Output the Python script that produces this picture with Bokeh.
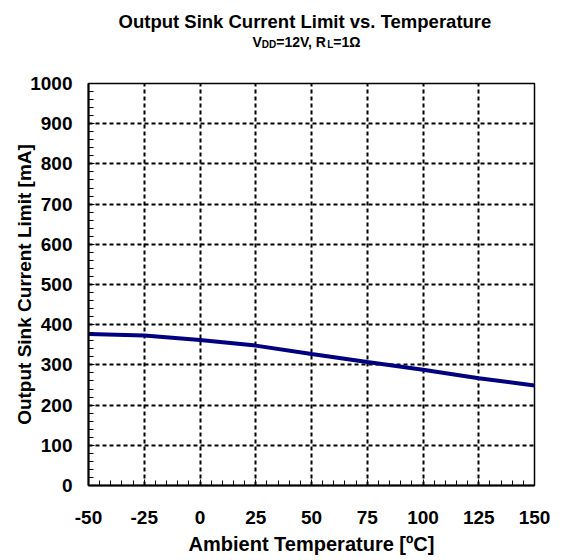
from bokeh.plotting import figure
from bokeh.models import SingleIntervalTicker, Range1d
from bokeh.layouts import column
from bokeh.core.properties import value
from bokeh.embed import file_html
from bokeh.resources import INLINE

# Data
temperature = [-50, -25, 0, 25, 50, 75, 100, 125, 150]
sink_current = [377, 373, 362, 348, 327, 307, 288, 267, 249]

x_tick_values = [-50, -25, 0, 25, 50, 75, 100, 125, 150]
x_tick_labels = ["-50", "-25", "0", "25", "50", "75", "100", "125", "150"]

title_text = "Output Sink Current Limit  vs. Temperature"
subtitle_parts = ["V", "DD", "=12V, R", "L", "=1Ω"]
x_label = "Ambient Temperature [ºC]"
y_label = "Output Sink Current Limit [mA]"

FONT = "Liberation Sans"
W = 556
HEADER_H = 70
LEFT = 88
RIGHT = 534

# header figure: its frame is aligned with the main frame by the column layout,
# so its x range is given in page pixels of that frame
h = figure(width=W, height=HEADER_H, output_backend="svg", toolbar_location=None,
           x_range=Range1d(LEFT, RIGHT), y_range=Range1d(0, HEADER_H),
           x_axis_type=None, y_axis_type=None, title=None,
           min_border=0, min_border_left=LEFT, min_border_right=W - RIGHT,
           min_border_top=0, min_border_bottom=0)
h.grid.visible = False
h.outline_line_color = None
h.background_fill_color = "white"
h.border_fill_color = "white"

h.text(x=[307], y=[HEADER_H - 21], text=[title_text], text_align="center",
       text_baseline="alphabetic", text_font=value(FONT), text_font_style="bold",
       text_font_size=value("18.5px"), text_color="black")

sub_x = [252, 261.3, 275.7, 326.7, 332.8]
sub_big = [True, False, True, False, True]
for t, sx, big in zip(subtitle_parts, sub_x, sub_big):
    h.text(x=[sx], y=[HEADER_H - (41 if big else 44)], text=[t], text_align="left",
           text_baseline="alphabetic", text_font=value(FONT), text_font_style="bold",
           text_font_size=value("14px" if big else "10px"), text_color="black")

p = figure(width=W, height=490, output_backend="svg", toolbar_location=None,
           x_range=Range1d(-50, 150), y_range=Range1d(0, 1000),
           min_border_left=LEFT, min_border_right=W - RIGHT, min_border_top=13,
           min_border_bottom=75, title=None)
p.background_fill_color = "white"
p.border_fill_color = "white"
p.outline_line_color = "black"
p.outline_line_width = 1.5

p.line(temperature, sink_current, line_color="#000080", line_width=4)

p.xaxis.ticker = SingleIntervalTicker(interval=25, num_minor_ticks=5)
p.yaxis.ticker = SingleIntervalTicker(interval=100, num_minor_ticks=5)
p.xaxis.major_label_overrides = dict(zip(x_tick_values, x_tick_labels))

for ax in (p.xaxis[0], p.yaxis[0]):
    ax.axis_line_color = "black"
    ax.axis_line_width = 2
    ax.major_tick_line_color = "black"
    ax.minor_tick_line_color = "black"
    ax.major_tick_in = 6
    ax.major_tick_out = 0
    ax.minor_tick_in = 5
    ax.minor_tick_out = 0
    ax.major_label_text_font = FONT
    ax.major_label_text_font_style = "bold"
    ax.major_label_text_font_size = "19px"
    ax.major_label_text_color = "black"
    ax.axis_label_text_font = FONT
    ax.axis_label_text_font_style = "bold"
    ax.axis_label_text_color = "black"

p.xaxis.axis_label = x_label
p.yaxis.axis_label = y_label
p.xaxis.axis_label_text_font_size = "20px"
p.yaxis.axis_label_text_font_size = "19px"
p.xaxis.major_label_standoff = 25
p.xaxis.axis_label_standoff = 6
p.yaxis.major_label_standoff = 16
p.yaxis.axis_label_standoff = -8

for g in (p.xgrid[0], p.ygrid[0]):
    g.grid_line_color = "black"
    g.grid_line_dash = "4 3"
    g.grid_line_width = 2

layout = column(h, p, spacing=0)
open("out.html", "w").write(file_html(layout, INLINE))
